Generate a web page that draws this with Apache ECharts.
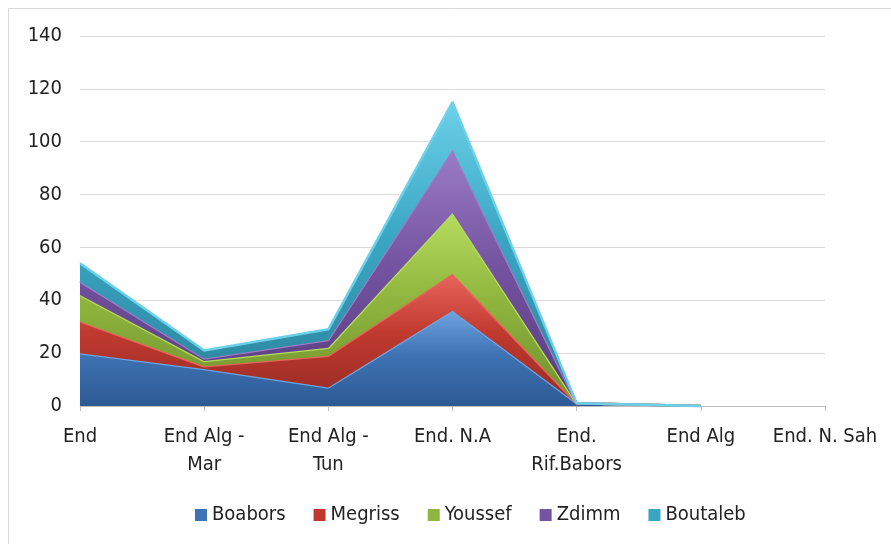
<!DOCTYPE html>
<html>
<head>
<meta charset="utf-8">
<script src="https://cdn.jsdelivr.net/npm/echarts@6/dist/echarts.min.js"></script>
<style>
  html, body { margin: 0; padding: 0; background: #ffffff; }
  #chart { width: 891px; height: 544px; }
</style>
</head>
<body>
<div id="chart"></div>
<script>
// Categories along the x axis
const categories = ['End', 'End Alg -\nMar', 'End Alg -\nTun', 'End. N.A', 'End.\nRif.Babors', 'End Alg', 'End. N. Sah'];

// Stacked values per site (no value recorded for the last category)
const boabors  = [20, 14, 7, 36, 1, 0, null];
const megriss  = [12, 1, 12, 14, 0, 0, null];
const youssef  = [10, 2, 3, 23, 0, 0, null];
const zdimm    = [5, 1, 3, 24, 0, 0, null];
const boutaleb = [7, 3, 4, 18, 0, 0, null];

const seriesNames = ['Boabors', 'Megriss', 'Youssef', 'Zdimm', 'Boutaleb'];
const seriesData = [boabors, megriss, youssef, zdimm, boutaleb];

// y axis ticks
const yMin = 0, yMax = 140, yStep = 20;

// base colour, lighter highlight and darker shade for each series
const palette = [
  { base: '#3f73b4', light: '#6fa3e0', dark: '#2d5a94' },
  { base: '#c0392f', light: '#e8645c', dark: '#952a24' },
  { base: '#8fb53e', light: '#b6dc5e', dark: '#6f8f2c' },
  { base: '#7453a0', light: '#9b7cc6', dark: '#573b7d' },
  { base: '#3aa6c4', light: '#6cd0e8', dark: '#2a8098' }
];

const font = '"Liberation Sans Narrow", "DejaVu Sans Condensed", "Liberation Sans", sans-serif';
const fontSize = 20;

const chart = echarts.init(document.getElementById('chart'));

const series = seriesNames.map((name, i) => ({
  name: name,
  type: 'line',
  stack: 'total',
  data: seriesData[i],
  symbol: 'none',
  z: 2 + i,
  lineStyle: { color: palette[i].light, width: 2.5 },
  itemStyle: { color: palette[i].base },
  areaStyle: {
    opacity: 1,
    color: new echarts.graphic.LinearGradient(0, 0, 0, 1, [
      { offset: 0, color: palette[i].light },
      { offset: 0.45, color: palette[i].base },
      { offset: 1, color: palette[i].dark }
    ])
  }
}));

chart.setOption({
  animation: false,
  backgroundColor: '#ffffff',
  textStyle: { fontFamily: font },
  graphic: [{
    type: 'rect',
    shape: { x: 8.5, y: 8.5, width: 900, height: 600 },
    style: { fill: 'none', stroke: '#d9d9d9', lineWidth: 1 },
    silent: true
  }],
  grid: { left: 80, right: 66, top: 36, bottom: 138, containLabel: false },
  legend: {
    bottom: 14,
    left: 190,
    itemWidth: 12,
    itemHeight: 12,
    itemGap: 28,
    icon: 'rect',
    textStyle: { fontSize: fontSize, color: '#222', fontFamily: font },
    data: seriesNames.map((n, i) => ({ name: n, itemStyle: { color: palette[i].base } }))
  },
  xAxis: {
    type: 'category',
    boundaryGap: false,
    data: categories,
    axisLine: { lineStyle: { color: '#bfbfbf', width: 1 } },
    axisTick: { show: true, length: 5, lineStyle: { color: '#bfbfbf' } },
    axisLabel: { fontSize: fontSize, color: '#222', lineHeight: 28, margin: 17, interval: 0, fontFamily: font }
  },
  yAxis: {
    type: 'value',
    min: yMin,
    max: yMax,
    interval: yStep,
    axisLine: { show: false },
    axisTick: { show: false },
    axisLabel: { fontSize: fontSize, color: '#222', margin: 18, fontFamily: font },
    splitLine: { lineStyle: { color: '#d9d9d9', width: 1 } }
  },
  series: series
});
</script>
</body>
</html>
